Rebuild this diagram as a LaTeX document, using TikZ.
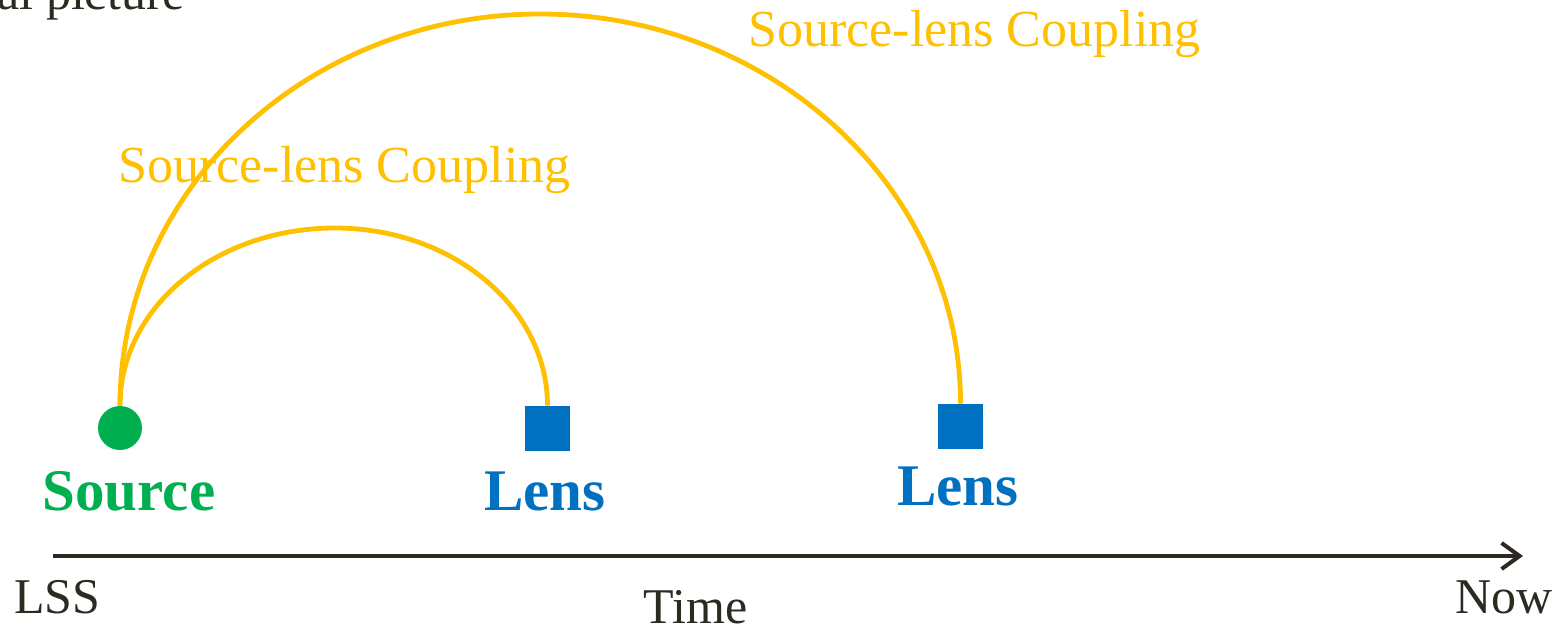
\documentclass[tikz,border=0pt]{standalone}
\usepackage{fontspec}
\setmainfont{Liberation Serif}
\usetikzlibrary{arrows.meta}
\definecolor{cpl}{HTML}{FFC000}
\definecolor{srcgreen}{HTML}{00B050}
\definecolor{lensblue}{HTML}{0070C0}
\definecolor{ink}{HTML}{2D2A22}
\begin{document}
\begin{tikzpicture}[x=0.5pt,y=-0.5pt,
  coupling/.style={draw=cpl,line width=2.4pt},
  cpllabel/.style={text=cpl,font=\fontsize{26}{30}\selectfont,anchor=base west,inner sep=0pt},
  lensbox/.style={fill=lensblue,minimum size=22.5pt,inner sep=0pt,draw=none},
  boldlabel/.style={font=\fontsize{29.5}{33}\selectfont\bfseries,anchor=base,inner sep=0pt},
  axislabel/.style={text=ink,font=\fontsize{25}{30}\selectfont,anchor=base west,inner sep=0pt}]
\useasboundingbox (0,0) rectangle (1558,631);
\fill[white] (0,0) rectangle (1558,631);
% clipped header text
\node[axislabel] (hdr) at (-3,10) {al picture};
% markers
\node[circle,fill=srcgreen,minimum size=22pt,inner sep=0pt] (src) at (120,428) {};
\node[lensbox] (lensA) at (547.5,428.5) {};
\node[lensbox] (lensB) at (960.5,426.5) {};
% labels under markers
\node[boldlabel,text=srcgreen] (srclab) at (129,510) {Source};
\node[boldlabel,text=lensblue] (lensAlab) at (545,510) {Lens};
\node[boldlabel,text=lensblue] (lensBlab) at (958,505) {Lens};
% coupling arcs
\draw[coupling] (src.north) .. controls (120,307) and (216,228) .. (335,228)
  .. controls (453,228) and (lensA.north |- 0,308) .. (lensA.north);
\draw[coupling] (src.north) .. controls (120,189) and (308,14) .. (540,14)
  .. controls (772,14) and (lensB.north |- 0,189) .. (lensB.north);
\node[cpllabel] (cplA) at (118,183) {Source-lens Coupling};
\node[cpllabel] (cplB) at (748,47) {Source-lens Coupling};
% time axis
\coordinate (axS) at (53,556);
\coordinate (axE) at (1523,556);
\draw[ink,line width=2pt,-{Straight Barb[length=9pt,width=13pt,line width=2pt]}] (axS) -- (axE);
\node[axislabel] (lss) at (14,613) {LSS};
\node[axislabel] (time) at (643,623) {Time};
\node[axislabel] (now) at (1455,613) {Now};
\end{tikzpicture}
\end{document}
